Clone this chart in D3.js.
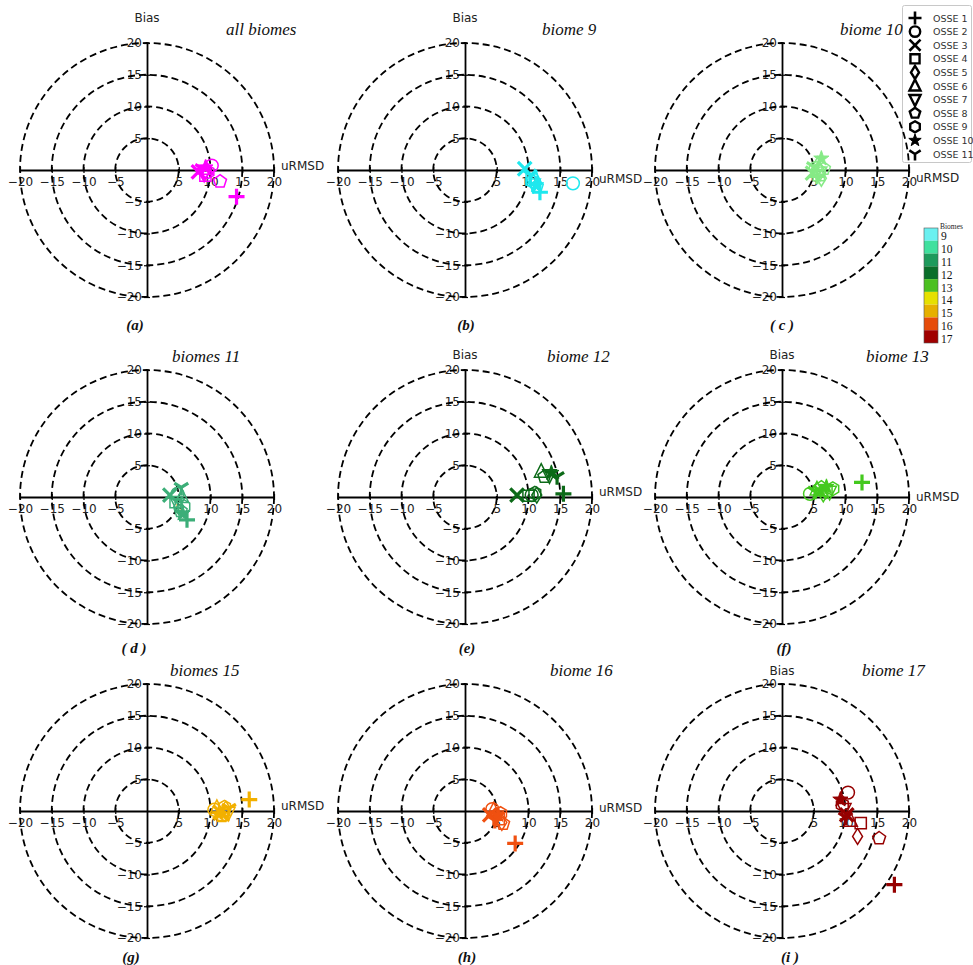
<!DOCTYPE html>
<html>
<head>
<meta charset="utf-8">
<script src="https://cdn.jsdelivr.net/npm/d3@7"></script>
<style>
  body { margin: 0; background: #fff; }
  svg { display: block; }
</style>
</head>
<body>
<svg id="chart" width="973" height="965"></svg>
<script>
// ---- data -------------------------------------------------------------
const osseNames = ["OSSE 1", "OSSE 2", "OSSE 3", "OSSE 4", "OSSE 5", "OSSE 6",
                   "OSSE 7", "OSSE 8", "OSSE 9", "OSSE 10", "OSSE 11"];
const osseMarkers = ["plus", "circle", "x", "square", "diamond", "triangleUp",
                     "triangleDown", "pentagon", "hexagon", "star", "tri"];
const panelTitles = ["all biomes", "biome 9", "biome 10", "biomes 11", "biome 12",
                     "biome 13", "biomes 15", "biome 16", "biome 17"];
const panelLetters = ["(a)", "(b)", "( c )", "( d )", "(e)", "(f)", "(g)", "(h)", "(i )"];
const axisTicks = [-20, -15, -10, -5, 5, 10, 15, 20];
const ringRadii = [5, 10, 15, 20];
const biomeIds = [9, 10, 11, 12, 13, 14, 15, 16, 17];

// [uRMSD, bias] for OSSE 1 .. OSSE 11
const allBiomes = [[14.1, -4.2], [10.2, 0.7], [8.1, -0.3], [9.2, -0.9], [9.0, -0.5], [9.3, 0.2],
                   [9.0, -0.6], [11.5, -1.8], [9.6, -0.3], [9.2, 0.4], [8.7, 0.2]];
const biome9 = [[11.8, -3.5], [17.0, -2.1], [9.4, 0.2], [10.5, -1.5], [10.8, -2.0], [11.0, -1.2],
                [10.8, -2.3], [11.3, -2.6], [10.6, -1.8], [11.2, -2.4], [10.3, -0.8]];
const biome10 = [[5.5, -1.0], [5.3, 0.3], [4.8, -0.5], [5.8, -0.8], [6.2, -1.3], [5.6, 0.8],
                 [6.0, -0.4], [6.6, 0.2], [5.9, -0.2], [6.2, 1.8], [5.0, 0.5]];
const biome11 = [[6.3, -3.6], [4.8, 0.5], [3.6, 0.3], [4.5, -0.8], [5.0, -1.5], [5.5, 0.0],
                 [4.8, -1.1], [5.3, -2.2], [5.8, -1.5], [5.6, -2.6], [5.4, 1.5]];
const biome12 = [[15.5, 0.5], [10.5, 0.3], [8.2, 0.3], [10.0, 0.2], [11.3, 0.3], [12.0, 4.0],
                 [13.3, 3.4], [12.5, 3.2], [11.0, 0.6], [13.6, 3.8], [14.5, 3.2]];
const biome13 = [[12.6, 2.3], [4.4, 0.5], [6.0, 0.8], [7.0, 1.0], [6.5, 0.5], [5.5, 1.2],
                 [7.5, 0.8], [6.2, 1.5], [8.0, 1.3], [7.0, 1.6], [5.2, 0.9]];
const biome15 = [[16.1, 1.8], [10.6, 0.2], [11.5, -0.2], [12.0, -0.6], [12.4, 0.3], [11.0, 0.5],
                 [12.8, -0.3], [11.8, -0.8], [12.2, 0.6], [11.3, -0.5], [12.9, 0.4]];
const biome16 = [[7.9, -5.1], [4.3, 0.3], [3.9, -0.6], [5.3, -1.3], [5.8, -1.8], [4.5, 0.1],
                 [5.0, -0.9], [6.0, -2.0], [5.6, -0.4], [5.2, -0.6], [4.7, -1.5]];
const biome17 = [[17.7, -11.6], [10.4, 2.9], [10.2, -0.6], [12.4, -1.9], [11.9, -4.0], [10.8, -1.5],
                 [9.8, 0.3], [15.3, -4.3], [9.5, 1.0], [9.2, 1.8], [10.0, -1.0]];

const panelValues = [allBiomes, biome9, biome10, biome11, biome12, biome13, biome15, biome16, biome17];

// ---- styles -----------------------------------------------------------
const panelColors = ["#ff00ff", "#1ee8ee", "#86ea86", "#3cae78", "#0c6a18",
                     "#44c91e", "#f2b000", "#f05010", "#960000"];
const biomeColors = ["#6af0f0", "#40e09e", "#1e9a5c", "#0a6e2a", "#4cc020",
                     "#e6e000", "#e6b000", "#e64c0a", "#a00000"];

// ---- layout -----------------------------------------------------------
const colCenters = [147, 465, 782];
const rowCenters = [170, 497, 811];
const R = 127;                       // pixel radius of the 20-unit ring
const showBias = [true, true, false, false, true, true, false, false, true];
const showURMSD = [true, true, true, false, true, true, true, true, false];
const biasLabelY = [22, 359, 675];
const uLabelDy = [-2, 11, 10, 0, -3, 2, -3, -1, 0];
const titleLeft = [226, 542, 840, 172, 547, 866, 170, 550, 862];
const letterX = [135, 466, 782, 134, 467, 784, 131, 467, 790];
const letterY = [330, 653, 962];

const svg = d3.select("#chart");

function poly(pts) {
  return "M" + pts.map(p => p[0].toFixed(2) + "," + p[1].toFixed(2)).join("L") + "Z";
}
function regular(n, s, rot) {
  return d3.range(n).map(i => {
    const a = rot + i * 2 * Math.PI / n;
    return [s * Math.sin(a), -s * Math.cos(a)];
  });
}
function markerPath(type, s) {
  switch (type) {
    case "plus": return `M${-s},0H${s}M0,${-s}V${s}`;
    case "x": { const t = s * 0.85; return `M${-t},${-t}L${t},${t}M${-t},${t}L${t},${-t}`; }
    case "tri": return `M0,0V${s}M0,0L${-0.87 * s},${-0.55 * s}M0,0L${0.87 * s},${-0.55 * s}`;
    case "circle": { const r = s * 0.8; return `M${r},0A${r},${r} 0 1,1 ${-r},0A${r},${r} 0 1,1 ${r},0Z`; }
    case "square": { const h = s * 0.7; return poly([[-h, -h], [h, -h], [h, h], [-h, h]]); }
    case "diamond": return poly([[0, -s], [0.62 * s, 0], [0, s], [-0.62 * s, 0]]);
    case "triangleUp": return poly([[0, -s], [0.85 * s, 0.7 * s], [-0.85 * s, 0.7 * s]]);
    case "triangleDown": return poly([[0, s], [0.85 * s, -0.7 * s], [-0.85 * s, -0.7 * s]]);
    case "pentagon": return poly(regular(5, s * 0.85, 0));
    case "hexagon": return poly(regular(6, s * 0.85, 0));
    case "star": {
      const pts = d3.range(10).map(i => {
        const a = i * Math.PI / 5, r = i % 2 ? s * 0.4 : s;
        return [r * Math.sin(a), -r * Math.cos(a)];
      });
      return poly(pts);
    }
  }
}
const lineMarkers = new Set(["plus", "x", "tri"]);

function drawMarker(g, type, color, s, lineW, hollowW) {
  const p = g.append("path").attr("d", markerPath(type, s));
  if (lineMarkers.has(type)) {
    p.attr("fill", "none").attr("stroke", color).attr("stroke-width", lineW);
  } else if (type === "star") {
    p.attr("fill", color).attr("stroke", color).attr("stroke-width", 1);
  } else {
    p.attr("fill", "none").attr("stroke", color).attr("stroke-width", hollowW);
  }
  return p;
}

// ---- marker legend (drawn first so panel titles stay on top) -----------
const leg = svg.append("g");
leg.append("rect").attr("x", 902.5).attr("y", 5.5).attr("width", 69).attr("height", 157)
  .attr("rx", 2).attr("fill", "#fff").attr("stroke", "#c8c8c8");
const legY = d3.scalePoint().domain(osseNames).range([18, 154]);
osseNames.forEach((name, i) => {
  const mg = leg.append("g").attr("transform", `translate(915,${legY(name)})`);
  drawMarker(mg, osseMarkers[i], "#000", 6.5, 2.6, 2.4);
  leg.append("text").attr("x", 933).attr("y", legY(name) + 3.5)
    .attr("fill", "#333").style("font-family", "DejaVu Sans").style("font-size", "9.5px")
    .text(name);
});

// ---- panels -----------------------------------------------------------
panelTitles.forEach((title, k) => {
  const row = Math.floor(k / 3);
  const cx = colCenters[k % 3], cy = rowCenters[row];
  const x = d3.scaleLinear().domain([-20, 20]).range([cx - R, cx + R]);
  const y = d3.scaleLinear().domain([-20, 20]).range([cy + R, cy - R]);
  const g = svg.append("g");

  // axes through the origin
  const xAxis = d3.axisBottom(x).tickValues(axisTicks).tickSize(3).tickSizeOuter(0).tickPadding(4);
  const yAxis = d3.axisLeft(y).tickValues(axisTicks).tickSize(3).tickSizeOuter(0).tickPadding(2);
  const gx = g.append("g").attr("transform", `translate(0,${y(0)})`).call(xAxis);
  const gy = g.append("g").attr("transform", `translate(${x(0)},0)`).call(yAxis);
  [gx, gy].forEach(a => {
    a.select(".domain").attr("stroke", "#000").attr("stroke-width", 1.8);
    a.selectAll(".tick line").attr("stroke", "#000").attr("stroke-width", 1.2);
    a.selectAll(".tick text").attr("fill", "#222")
      .style("font-family", "DejaVu Sans").style("font-size", "12px");
  });
  gx.selectAll(".tick line").attr("y1", -3);
  gy.selectAll(".tick line").attr("x1", 3);

  // dashed rings
  g.selectAll("circle.ring").data(ringRadii).join("circle")
    .attr("class", "ring")
    .attr("cx", x(0)).attr("cy", y(0))
    .attr("r", d => x(d) - x(0))
    .attr("fill", "none").attr("stroke", "#000")
    .attr("stroke-width", 1.8).attr("stroke-dasharray", "7,4");

  if (showBias[k]) {
    g.append("text").attr("x", x(0)).attr("y", biasLabelY[row])
      .attr("text-anchor", "middle").attr("fill", "#222")
      .style("font-family", "DejaVu Sans").style("font-size", "12px").text("Bias");
  }
  if (showURMSD[k]) {
    g.append("text").attr("x", x(20) + 7).attr("y", y(0) + 2 + uLabelDy[k])
      .attr("fill", "#222")
      .style("font-family", "DejaVu Sans").style("font-size", "12px").text("uRMSD");
  }
  g.append("text").attr("x", titleLeft[k]).attr("y", cy - 135)
    .attr("fill", "#111")
    .style("font-family", "Liberation Serif").style("font-style", "italic")
    .style("font-size", "17px").text(title);
  g.append("text").attr("x", letterX[k]).attr("y", letterY[row])
    .attr("text-anchor", "middle").attr("fill", "#111")
    .style("font-family", "Liberation Serif").style("font-style", "italic")
    .style("font-weight", "bold").style("font-size", "15px").text(panelLetters[k]);

  // OSSE markers
  const color = panelColors[k];
  panelValues[k].forEach((v, i) => {
    const mg = g.append("g").attr("transform", `translate(${x(v[0])},${y(v[1])})`);
    drawMarker(mg, osseMarkers[i], color, 8, 3.2, 1.5);
  });
});

// ---- biome colour bar -------------------------------------------------
const cb = svg.append("g");
const cbTop = 228, cbBottom = 343;
const cbY = d3.scaleBand().domain(biomeIds).range([cbTop, cbBottom]);
cb.selectAll("rect").data(biomeIds).join("rect")
  .attr("x", 924).attr("width", 14)
  .attr("y", d => cbY(d)).attr("height", cbY.bandwidth())
  .attr("fill", (d, i) => biomeColors[i]);
cb.append("rect").attr("x", 924).attr("y", cbTop).attr("width", 14).attr("height", cbBottom - cbTop)
  .attr("fill", "none").attr("stroke", "#555").attr("stroke-width", 0.6);
cb.append("text").attr("x", 940).attr("y", cbTop + 1)
  .style("font-family", "Liberation Serif").style("font-size", "7.5px").attr("fill", "#222")
  .text("Biomes");
cb.selectAll("text.lab").data(biomeIds).join("text")
  .attr("class", "lab")
  .attr("x", 941).attr("y", d => cbY(d) + cbY.bandwidth() / 2 + 6)
  .style("font-family", "Liberation Serif").style("font-size", "11.5px").attr("fill", "#111")
  .text(d => d);
</script>
</body>
</html>
